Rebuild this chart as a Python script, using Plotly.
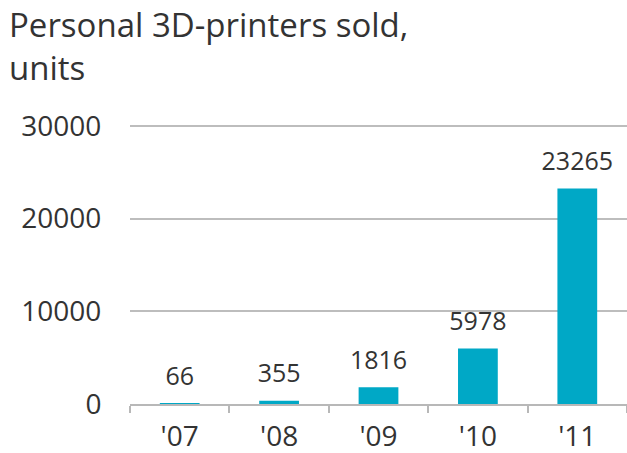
import plotly.graph_objects as go

years = ["'07", "'08", "'09", "'10", "'11"]
units = [66, 355, 1816, 5978, 23265]
y_ticks = [0, 10000, 20000, 30000]

bar_color = "#00A8C6"
text_color = "#333333"
font_family = "'Open Sans', Lato, sans-serif"

fig = go.Figure()
fig.add_trace(go.Bar(
    x=years, y=units,
    marker=dict(color=bar_color, line=dict(width=0)),
    width=0.4,
    hoverinfo="skip",
))
fig.add_trace(go.Scatter(
    x=years, y=units,
    mode="markers+text",
    marker=dict(size=18, color="rgba(0,0,0,0)"),
    text=[str(v) for v in units],
    textposition="top center",
    textfont=dict(size=25, color=text_color, family=font_family),
    cliponaxis=False,
    hoverinfo="skip",
))

plot_w = 497
plot_h = 281
fig.add_annotation(
    text="Personal 3D-printers sold,<br>units",
    xref="paper", yref="paper", x=-(130 - 7) / plot_w, y=1 + (123 - 0) / plot_h,
    xanchor="left", yanchor="top", align="left", showarrow=False,
    font=dict(size=33, color=text_color, family=font_family),
)

fig.update_layout(
    width=627, height=453,
    paper_bgcolor="white", plot_bgcolor="white",
    margin=dict(l=130, r=0, t=123, b=49, autoexpand=False),
    showlegend=False,
    font=dict(family=font_family, color=text_color),
    xaxis=dict(
        type="category",
        range=[-0.5, 4.5],
        automargin=False,
        showline=True, linecolor="#b8b8b8", linewidth=2,
        ticks="outside", tickson="boundaries", ticklen=7, tickcolor="#b8b8b8", tickwidth=2,
        tickfont=dict(size=28, color=text_color),
        ticklabelstandoff=6,
        showgrid=False,
    ),
    yaxis=dict(
        range=[0, 30324],
        automargin=False,
        tickvals=y_ticks,
        ticktext=[str(v) for v in y_ticks],
        tickfont=dict(size=28, color=text_color),
        showgrid=True, gridcolor="#bdbdbd", gridwidth=1.8,
        zeroline=False,
        ticks="outside", ticklen=22, tickcolor="rgba(0,0,0,0)",
        showline=False,
    ),
)

fig.write_html("out.html", post_script="document.body.style.margin='0';",
               config={"displayModeBar": False})
